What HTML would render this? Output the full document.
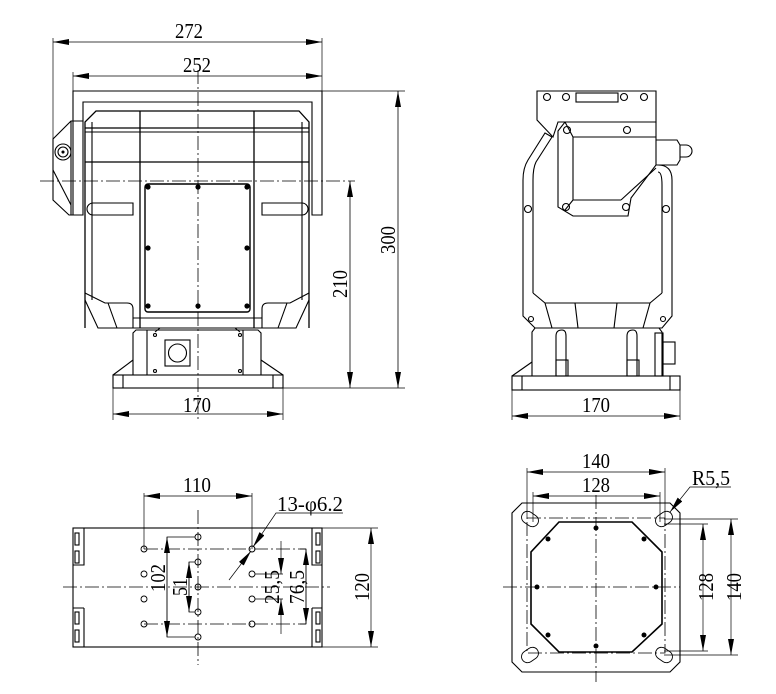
<!DOCTYPE html>
<html><head><meta charset="utf-8"><style>
html,body{margin:0;padding:0;background:#fff;}
svg{display:block;}
text{font-family:"Liberation Serif",serif;fill:#000;}
</style></head><body>
<svg width="776" height="694" viewBox="0 0 776 694" xmlns="http://www.w3.org/2000/svg">
<defs>
<marker id="a" viewBox="0 0 16 6" refX="16" refY="3" markerWidth="16" markerHeight="6" markerUnits="userSpaceOnUse" orient="auto-start-reverse"><path d="M0,0 L16,3 L0,6 Z" fill="#000"/></marker>
</defs>
<g fill="none" stroke="#000" stroke-width="1.1">
<!-- ============ FRONT VIEW ============ -->
<line x1="53" y1="42" x2="322" y2="42" marker-start="url(#a)" marker-end="url(#a)" stroke-width="0.8"/>
<line x1="73" y1="76" x2="322" y2="76" marker-start="url(#a)" marker-end="url(#a)" stroke-width="0.8"/>
<line x1="53" y1="38" x2="53" y2="140" stroke-width="0.7"/>
<line x1="322" y1="38" x2="322" y2="91" stroke-width="0.7"/>
<line x1="73" y1="72" x2="73" y2="91" stroke-width="0.7"/>
<path d="M73,215 V91 H322 V215 H312 V102 H83 V215 Z"/>
<line x1="83" y1="102" x2="312" y2="102"/>
<path d="M85,328 V122 L96,111 H299 L309,122 V328" stroke-width="1.3"/>
<line x1="85" y1="128" x2="309" y2="128" stroke-width="1.3"/>
<line x1="85" y1="132" x2="309" y2="132"/>
<line x1="85" y1="162" x2="309" y2="162" stroke-width="1.3"/>
<line x1="140" y1="111" x2="140" y2="328" stroke-width="1.3"/>
<line x1="254" y1="111" x2="254" y2="328" stroke-width="1.3"/>
<line x1="92" y1="122" x2="92" y2="300"/>
<line x1="302" y1="122" x2="302" y2="300"/>
<rect x="145" y="184" width="105" height="128" rx="3" stroke-width="1.4"/>
<g fill="#000" stroke="none">
<circle cx="148" cy="187" r="2.6"/><circle cx="198" cy="187" r="2.6"/><circle cx="247" cy="187" r="2.6"/>
<circle cx="148" cy="248" r="2.6"/><circle cx="247" cy="248" r="2.6"/>
<circle cx="148" cy="306" r="2.6"/><circle cx="198" cy="306" r="2.6"/><circle cx="247" cy="306" r="2.6"/>
</g>
<path d="M133,203 H93 A6,6 0 0 0 93,215 H133 Z"/>
<path d="M262,203 H302 A6,6 0 0 1 302,215 H262 Z"/>
<path d="M85,300 L98,328 H133 V309 Q133,303 127,303 H105 L85,293"/>
<path d="M309,300 L296,328 H262 V309 Q262,303 268,303 H290 L309,293"/>
<line x1="108" y1="303" x2="117" y2="328"/><line x1="287" y1="303" x2="278" y2="328"/>
<line x1="133" y1="318" x2="262" y2="318"/>
<line x1="133" y1="328" x2="262" y2="328"/>
<path d="M83,121 H71 L53,139 V200 L69,215 H83"/>
<line x1="71" y1="121" x2="71" y2="215"/>
<circle cx="63" cy="152" r="8"/><circle cx="63" cy="152" r="5"/><circle cx="63" cy="152" r="1" fill="#000"/>
<line x1="53" y1="170" x2="71" y2="205"/>
<path d="M133,375 V333 L136,330 H258 L261,333 V375"/>
<line x1="147" y1="330" x2="147" y2="375"/><line x1="243" y1="330" x2="243" y2="375"/>
<line x1="160" y1="328" x2="155" y2="332"/><line x1="235" y1="328" x2="240" y2="332"/>
<circle cx="155" cy="335" r="1.5"/><circle cx="240" cy="335" r="1.5"/>
<circle cx="155" cy="371" r="1.5"/><circle cx="240" cy="371" r="1.5"/>
<rect x="165" y="340" width="25" height="26"/><circle cx="177.5" cy="353" r="9"/>
<rect x="113" y="375" width="170" height="13"/>
<line x1="123" y1="375" x2="123" y2="388"/><line x1="273" y1="375" x2="273" y2="388"/>
<line x1="113" y1="375" x2="133" y2="360"/><line x1="283" y1="375" x2="261" y2="360"/>
<line x1="198" y1="70" x2="198" y2="420" stroke-width="0.8" stroke-dasharray="14,3,2,3"/>
<line x1="40" y1="181" x2="355" y2="181" stroke-width="0.8" stroke-dasharray="14,3,2,3"/>
<line x1="113" y1="388" x2="113" y2="420" stroke-width="0.7"/><line x1="283" y1="388" x2="283" y2="420" stroke-width="0.7"/>
<line x1="113" y1="414" x2="283" y2="414" marker-start="url(#a)" marker-end="url(#a)" stroke-width="0.8"/>
<line x1="283" y1="388" x2="405" y2="388" stroke-width="0.7"/>
<line x1="322" y1="91" x2="405" y2="91" stroke-width="0.7"/>
<line x1="350" y1="181" x2="350" y2="388" marker-start="url(#a)" marker-end="url(#a)" stroke-width="0.8"/>
<line x1="398" y1="91" x2="398" y2="388" marker-start="url(#a)" marker-end="url(#a)" stroke-width="0.8"/>

<!-- ============ SIDE VIEW ============ -->
<path d="M537,91 H656 V122 H558 L553,137 L537,120 Z"/>
<rect x="576" y="93" width="42" height="9"/>
<circle cx="547" cy="97" r="3.5"/><circle cx="566" cy="97" r="3.5"/><circle cx="624" cy="97" r="3.5"/><circle cx="644" cy="97" r="3.5"/>
<path d="M565,122 H656 V165 L631,198 L628,216 H573 L558,207 V131 Z"/>
<path d="M573,137 H656 M573,137 V200 H621 M573,137 L565,122 M573,200 L565,210"/>
<circle cx="567" cy="130" r="3.5"/><circle cx="566" cy="207" r="3.5"/><circle cx="626" cy="207" r="3.5"/><circle cx="627" cy="130" r="3.5"/>
<path d="M621,200 L656,168"/>
<path d="M656,140 H677 L680,145 V160 L677,165 H656"/>
<path d="M680,145 H686 A5,5 0 0 1 686,157 H680"/>
<path d="M552,137 L545,133 L528,160 Q523,168 523,180 V300"/>
<path d="M552,137 L536,162 Q533,168 533,180 V293"/>
<path d="M658,165 Q672,165 672,180 V300"/>
<path d="M658,172 Q662,172 662,185 V293"/>
<circle cx="528" cy="209" r="3.5"/><circle cx="666" cy="209" r="3.5"/>
<path d="M523,300 V316 L535,328 H662 L672,316 V300"/>
<path d="M533,293 L545,303 H650 L662,293"/>
<line x1="545" y1="303" x2="552" y2="328"/><line x1="650" y1="303" x2="643" y2="328"/>
<line x1="575" y1="303" x2="578" y2="328"/><line x1="617" y1="303" x2="614" y2="328"/>
<circle cx="531" cy="319" r="2.5"/><circle cx="663" cy="319" r="2.5"/>
<path d="M532,376 V332 L535,328 H659 L662,332 V376"/>
<path d="M556,376 V336 Q556,330 562,330 Q566,330 566,336 V376"/>
<path d="M627,376 V336 Q627,330 633,330 Q637,330 637,336 V376"/>
<rect x="556" y="360" width="12" height="16"/><rect x="627" y="360" width="12" height="16"/>
<rect x="655" y="333" width="8" height="43"/>
<rect x="663" y="342" width="12" height="22"/>
<rect x="512" y="376" width="168" height="14"/>
<line x1="522" y1="376" x2="522" y2="390"/><line x1="670" y1="376" x2="670" y2="390"/>
<line x1="512" y1="376" x2="532" y2="362"/>
<line x1="512" y1="390" x2="512" y2="420" stroke-width="0.7"/><line x1="680" y1="390" x2="680" y2="420" stroke-width="0.7"/>
<line x1="512" y1="416" x2="680" y2="416" marker-start="url(#a)" marker-end="url(#a)" stroke-width="0.8"/>

<!-- ============ BOTTOM LEFT ============ -->
<rect x="73" y="528" width="249" height="119"/>
<path d="M84,528 V565 H73 M84,608 V647 M312,528 V565 H322 M312,608 V647"/>
<path d="M73,608 H84 M312,608 H322"/>
<rect x="75" y="533" width="4" height="12"/><rect x="75" y="551" width="4" height="12"/>
<rect x="75" y="612" width="4" height="12"/><rect x="75" y="630" width="4" height="12"/>
<rect x="316" y="533" width="4" height="12"/><rect x="316" y="551" width="4" height="12"/>
<rect x="316" y="612" width="4" height="12"/><rect x="316" y="630" width="4" height="12"/>
<g stroke-width="0.8" stroke-dasharray="14,3,2,3">
<line x1="63" y1="587" x2="330" y2="587"/>
<line x1="198" y1="510" x2="198" y2="665"/>
<line x1="144" y1="549" x2="306" y2="549"/>
<line x1="144" y1="624" x2="306" y2="624"/>
</g>
<g stroke-width="0.9">
<circle cx="144" cy="549" r="3"/><circle cx="144" cy="574" r="3"/><circle cx="144" cy="599" r="3"/><circle cx="144" cy="624" r="3"/>
<circle cx="198" cy="537" r="3"/><circle cx="198" cy="562" r="3"/><circle cx="198" cy="587" r="3"/><circle cx="198" cy="612" r="3"/><circle cx="198" cy="637" r="3"/>
<circle cx="252" cy="549" r="3"/><circle cx="252" cy="574" r="3"/><circle cx="252" cy="599" r="3"/><circle cx="252" cy="624" r="3"/>
</g>
<g stroke-width="0.7">
<line x1="144" y1="493" x2="144" y2="549"/><line x1="252" y1="493" x2="252" y2="549"/>
<line x1="144" y1="496" x2="252" y2="496" marker-start="url(#a)" marker-end="url(#a)"/>
<path d="M195,537 H167 V637 H195"/>
<line x1="167" y1="537" x2="167" y2="637" marker-start="url(#a)" marker-end="url(#a)"/>
<path d="M195,562 H189 V612 H195"/>
<line x1="189" y1="562" x2="189" y2="612" marker-start="url(#a)" marker-end="url(#a)"/>
<path d="M255,574 H283 M255,599 H283"/>
<line x1="281" y1="541" x2="281" y2="574" marker-end="url(#a)"/>
<line x1="281" y1="634" x2="281" y2="599" marker-end="url(#a)"/>
<path d="M300,549 H306 V624 H300"/>
<line x1="306" y1="549" x2="306" y2="624" marker-start="url(#a)" marker-end="url(#a)"/>
<line x1="322" y1="528" x2="378" y2="528"/><line x1="322" y1="647" x2="378" y2="647"/>
<line x1="371" y1="528" x2="371" y2="647" marker-start="url(#a)" marker-end="url(#a)"/>
<path d="M343,513 H276 L253,547" marker-end="url(#a)"/>
<line x1="229" y1="580" x2="251" y2="551" marker-end="url(#a)"/>
</g>

<!-- ============ BOTTOM RIGHT ============ -->
<path d="M522,503 H670 L680,513 V662 L670,672 H522 L512,662 V513 Z"/>
<rect x="527" y="518" width="138" height="135" stroke-width="0.8" stroke-dasharray="14,3,2,3"/>
<path d="M559,522 H632 L662,552 V624 L632,652 H559 L531,624 V552 Z" stroke-width="1.6"/>
<g stroke-width="0.8" stroke-dasharray="14,3,2,3">
<line x1="596" y1="495" x2="596" y2="682"/>
<line x1="503" y1="587" x2="680" y2="587"/>
</g>
<g stroke-width="0.9">
<rect x="524" y="510" width="12" height="18" rx="6" transform="rotate(-55 530 519)"/>
<rect x="658" y="510" width="12" height="18" rx="6" transform="rotate(55 664 519)"/>
<rect x="524" y="646" width="12" height="18" rx="6" transform="rotate(55 530 655)"/>
<rect x="658" y="646" width="12" height="18" rx="6" transform="rotate(-55 664 655)"/>
</g>
<g fill="#000" stroke="none">
<circle cx="596" cy="528" r="2.5"/><circle cx="596" cy="646" r="2.5"/>
<circle cx="537" cy="587" r="2.5"/><circle cx="656" cy="587" r="2.5"/>
<circle cx="548" cy="539" r="2.5"/><circle cx="644" cy="539" r="2.5"/>
<circle cx="548" cy="635" r="2.5"/><circle cx="644" cy="635" r="2.5"/>
</g>
<g stroke-width="0.7">
<line x1="527" y1="468" x2="527" y2="518"/><line x1="665" y1="468" x2="665" y2="518"/>
<line x1="527" y1="472" x2="665" y2="472" marker-start="url(#a)" marker-end="url(#a)"/>
<line x1="533" y1="492" x2="533" y2="522"/><line x1="660" y1="492" x2="660" y2="522"/>
<line x1="533" y1="496" x2="660" y2="496" marker-start="url(#a)" marker-end="url(#a)"/>
<line x1="664" y1="519" x2="738" y2="519"/><line x1="664" y1="655" x2="738" y2="655"/>
<line x1="664" y1="524" x2="708" y2="524"/><line x1="664" y1="651" x2="708" y2="651"/>
<line x1="703" y1="524" x2="703" y2="651" marker-start="url(#a)" marker-end="url(#a)"/>
<line x1="731" y1="519" x2="731" y2="655" marker-start="url(#a)" marker-end="url(#a)"/>
<path d="M731,487 H690 L670,512" marker-end="url(#a)"/>
</g>
</g>

<!-- TEXT -->
<g font-size="21" text-anchor="middle">
<text x="189" y="38" textLength="28" lengthAdjust="spacingAndGlyphs">272</text>
<text x="197" y="72" textLength="28" lengthAdjust="spacingAndGlyphs">252</text>
<text x="197" y="412" textLength="28" lengthAdjust="spacingAndGlyphs">170</text>
<text x="596" y="412" textLength="28" lengthAdjust="spacingAndGlyphs">170</text>
<text x="197" y="492" textLength="28" lengthAdjust="spacingAndGlyphs">110</text>
<text x="596" y="468" textLength="28" lengthAdjust="spacingAndGlyphs">140</text>
<text x="596" y="492" textLength="28" lengthAdjust="spacingAndGlyphs">128</text>
<text x="310" y="511" textLength="66" lengthAdjust="spacingAndGlyphs">13-φ6.2</text>
<text x="711" y="485" textLength="38" lengthAdjust="spacingAndGlyphs">R5,5</text>
<text transform="translate(347,284) rotate(-90)" textLength="28" lengthAdjust="spacingAndGlyphs">210</text>
<text transform="translate(395,240) rotate(-90)" textLength="28" lengthAdjust="spacingAndGlyphs">300</text>
<text transform="translate(369,587) rotate(-90)" textLength="28" lengthAdjust="spacingAndGlyphs">120</text>
<text transform="translate(165,578) rotate(-90)" textLength="28" lengthAdjust="spacingAndGlyphs">102</text>
<text transform="translate(187,587) rotate(-90)" textLength="18" lengthAdjust="spacingAndGlyphs">51</text>
<text transform="translate(279,587) rotate(-90)" textLength="34" lengthAdjust="spacingAndGlyphs">25,5</text>
<text transform="translate(304,587) rotate(-90)" textLength="34" lengthAdjust="spacingAndGlyphs">76,5</text>
<text transform="translate(713,587) rotate(-90)" textLength="28" lengthAdjust="spacingAndGlyphs">128</text>
<text transform="translate(741,587) rotate(-90)" textLength="28" lengthAdjust="spacingAndGlyphs">140</text>
</g>
</svg>
</body></html>
